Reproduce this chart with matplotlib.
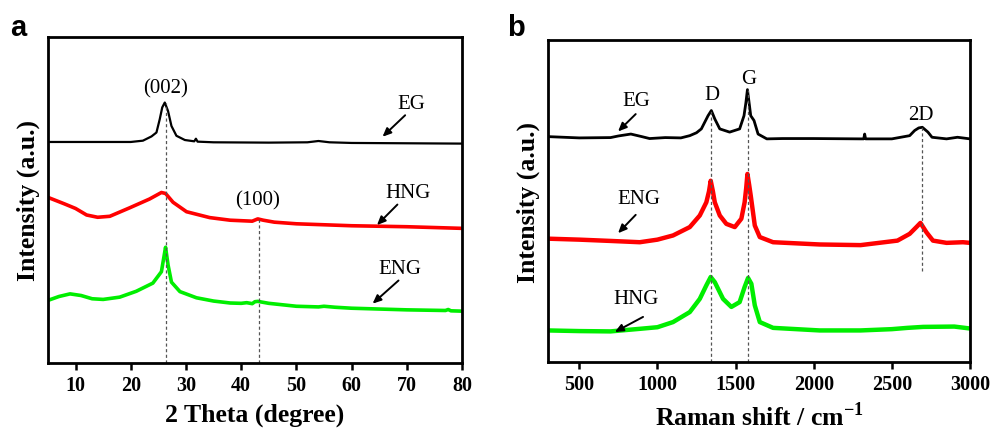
import matplotlib
matplotlib.use("Agg")
import matplotlib.pyplot as plt

# ---------------- Panel a: XRD ----------------
xrd_eg_x = [5, 20, 22.2, 23.75, 24.65, 25.25, 25.7, 26.16, 26.75, 27.37, 28.27, 29.8, 31.5, 31.8, 32.1, 35, 45, 52, 54, 56, 60, 80]
xrd_eg_y = [67.8, 67.8, 68.2, 69.5, 70.7, 74.8, 78.4, 79.9, 77.3, 72.7, 69.7, 68.4, 68.0, 68.8, 67.9, 67.7, 67.6, 67.7, 68.1, 67.7, 67.5, 67.3]

xrd_hng_x = [5, 8, 10, 12, 14, 16.2, 19.8, 23.4, 25.55, 26.3, 27.66, 30.1, 34.3, 38, 42, 43, 44, 46, 50, 55, 60, 70, 80]
xrd_hng_y = [50.8, 48.8, 47.4, 45.4, 44.7, 45.0, 47.6, 50.3, 52.3, 52.0, 49.3, 46.4, 44.6, 43.8, 43.5, 44.2, 43.8, 43.2, 42.7, 42.4, 42.1, 41.8, 41.3]

xrd_eng_x = [5, 7, 9, 11, 13, 15, 18, 21, 24, 25.55, 26.0, 26.3, 26.76, 27.37, 28.9, 31.9, 35, 38, 40, 41, 42, 42.5, 43, 45, 50, 54, 55, 57, 60, 70, 77, 77.5, 78, 80]
xrd_eng_y = [19.2, 20.4, 21.2, 20.7, 19.7, 19.5, 20.2, 22.0, 24.5, 28.0, 32.5, 35.5, 30.0, 24.8, 21.9, 20.0, 19.0, 18.4, 18.3, 18.5, 18.2, 18.8, 18.9, 18.3, 17.4, 17.2, 17.4, 17.1, 16.8, 16.3, 16.1, 16.4, 16.0, 15.9]

xrd_xticks = [10, 20, 30, 40, 50, 60, 70, 80]

# ---------------- Panel b: Raman ----------------
ram_eg_x = [300, 500, 700, 750, 830, 900, 950, 1050, 1150, 1207, 1250, 1281, 1324, 1345, 1367, 1399, 1462, 1526, 1554, 1566, 1576, 1588, 1597, 1618, 1644, 1700, 1800, 2000, 2300, 2320, 2326, 2332, 2500, 2614, 2646, 2672, 2695, 2731, 2757, 2850, 2920, 3000]
ram_eg_y = [70.0, 69.6, 69.7, 70.2, 70.8, 70.0, 69.4, 69.7, 69.6, 70.3, 71.2, 72.4, 76.5, 78.1, 75.5, 72.4, 71.4, 72.4, 76.5, 80.5, 84.6, 80.0, 76.5, 75.0, 70.8, 69.3, 69.4, 69.4, 69.3, 69.3, 70.8, 69.3, 69.3, 70.3, 71.9, 72.7, 72.9, 71.4, 69.8, 69.3, 69.8, 69.3]

ram_eng_x = [300, 500, 700, 887, 1000, 1100, 1207, 1271, 1313, 1330, 1341, 1355, 1367, 1399, 1441, 1495, 1537, 1558, 1568, 1576, 1587, 1597, 1623, 1655, 1740, 2038, 2300, 2536, 2614, 2657, 2683, 2721, 2763, 2850, 2955, 3000]
ram_eng_y = [38.3, 38.0, 37.6, 37.2, 38.0, 39.3, 41.9, 45.5, 49.6, 53.0, 56.3, 53.0, 49.6, 45.5, 42.9, 41.9, 44.5, 49.6, 54.0, 58.4, 55.0, 51.7, 42.4, 38.8, 37.2, 36.5, 36.3, 37.7, 39.8, 41.9, 43.2, 40.3, 37.7, 37.0, 37.2, 37.0]

ram_hng_x = [300, 500, 700, 887, 1000, 1100, 1207, 1271, 1313, 1341, 1367, 1420, 1473, 1526, 1558, 1580, 1601, 1623, 1655, 1740, 2038, 2300, 2500, 2600, 2700, 2900, 3000]
ram_hng_y = [9.8, 9.6, 9.5, 10.3, 10.8, 12.4, 15.5, 19.6, 23.8, 26.4, 24.8, 19.6, 17.1, 18.6, 23.3, 26.1, 24.3, 17.6, 12.4, 10.6, 9.8, 9.8, 10.2, 10.6, 10.9, 11.0, 10.4]

ram_xticks = [500, 1000, 1500, 2000, 2500, 3000]

plt.rcParams["mathtext.fontset"] = "custom"
plt.rcParams["mathtext.rm"] = "Liberation Serif"
plt.rcParams["mathtext.bf"] = "Liberation Serif:bold"

serif = ["Liberation Serif", "DejaVu Serif"]
fig = plt.figure(figsize=(9.91, 4.31), dpi=100)

def style(ax, xticks):
    for s in ax.spines.values():
        s.set_linewidth(2.0)
    ax.set_yticks([])
    ax.set_xticks(xticks)
    ax.tick_params(axis="x", direction="out", length=5, width=1.8, pad=4)
    for lab in ax.get_xticklabels():
        lab.set_fontfamily(serif)
        lab.set_fontweight("bold")
        lab.set_fontsize(14.5)

arrow_kw = dict(arrowstyle="-|>,head_length=0.5,head_width=0.22", color="black", lw=1.4,
                shrinkA=0, shrinkB=0)
dash = dict(ls=(0, (2.5, 2)), color="#555555", lw=0.9)

# Panel a
axa = fig.add_axes([0.0484, 0.1555, 0.4178, 0.7563])
axa.plot(xrd_eg_x, xrd_eg_y, color="black", lw=1.6)
axa.plot(xrd_hng_x, xrd_hng_y, color="#ff0000", lw=2.6)
axa.plot(xrd_eng_x, xrd_eng_y, color="#00ee00", lw=2.6)
axa.plot([26.3, 26.3], [0, 79.9], **dash)
axa.plot([43.2, 43.2], [0, 44.2], **dash)
axa.set_xlim(5, 80)
axa.set_ylim(0, 100)
style(axa, xrd_xticks)
axa.set_xlabel("2 Theta (degree)", fontfamily=serif, fontweight="bold", fontsize=18.5, labelpad=5)
axa.set_ylabel("Intensity (a.u.)", fontfamily=serif, fontweight="bold", fontsize=18.5, labelpad=6)
tk = dict(fontfamily=serif, fontsize=15, ha="center", va="center")
axa.text(26.3, 84.5, "(002)", **tk)
axa.text(43.0, 50.0, "(100)", **tk)
axa.text(70.9, 79.6, "EG", **tk)
axa.text(70.3, 52.3, "HNG", **tk)
axa.text(68.8, 29.1, "ENG", **tk)
axa.annotate("", xy=(65.6, 69.4), xytext=(69.7, 76.0), arrowprops=arrow_kw)
axa.annotate("", xy=(64.6, 42.3), xytext=(68.3, 48.6), arrowprops=arrow_kw)
axa.annotate("", xy=(63.8, 18.2), xytext=(68.5, 25.3), arrowprops=arrow_kw)
fig.text(0.010, 0.935, "a", fontfamily=["Liberation Sans", "DejaVu Sans"], fontweight="bold", fontsize=21, va="center")

# Panel b
axb = fig.add_axes([0.553, 0.1578, 0.4258, 0.747])
axb.plot(ram_eg_x, ram_eg_y, color="black", lw=2.0)
axb.plot(ram_eng_x, ram_eng_y, color="#ff0000", lw=3.2)
axb.plot(ram_hng_x, ram_hng_y, color="#00ee00", lw=3.2)
axb.plot([1346, 1346], [0, 78.1], **dash)
axb.plot([1578, 1578], [0, 84.6], **dash)
axb.plot([2695, 2695], [28.4, 72.9], **dash)
axb.set_xlim(300, 3000)
axb.set_ylim(0, 100)
style(axb, ram_xticks)
axb.set_xlabel("Raman shift / cm$^{\\mathbf{-1}}$", fontfamily=serif, fontweight="bold", fontsize=18.5, labelpad=5)
axb.set_ylabel("Intensity (a.u.)", fontfamily=serif, fontweight="bold", fontsize=18.5, labelpad=6)
axb.text(866, 81.2, "EG", **tk)
axb.text(1350, 83.2, "D", **tk)
axb.text(1587, 87.9, "G", **tk)
axb.text(2684, 77.0, "2D", **tk)
axb.text(883, 50.7, "ENG", **tk)
axb.text(866, 19.6, "HNG", **tk)
axb.annotate("", xy=(748, 71.6), xytext=(861, 77.0), arrowprops=arrow_kw)
axb.annotate("", xy=(748, 40.0), xytext=(861, 45.7), arrowprops=arrow_kw)
axb.annotate("", xy=(727, 9.3), xytext=(908, 14.0), arrowprops=arrow_kw)
fig.text(0.512, 0.935, "b", fontfamily=["Liberation Sans", "DejaVu Sans"], fontweight="bold", fontsize=21, va="center")

fig.savefig("out.png", dpi=100)
